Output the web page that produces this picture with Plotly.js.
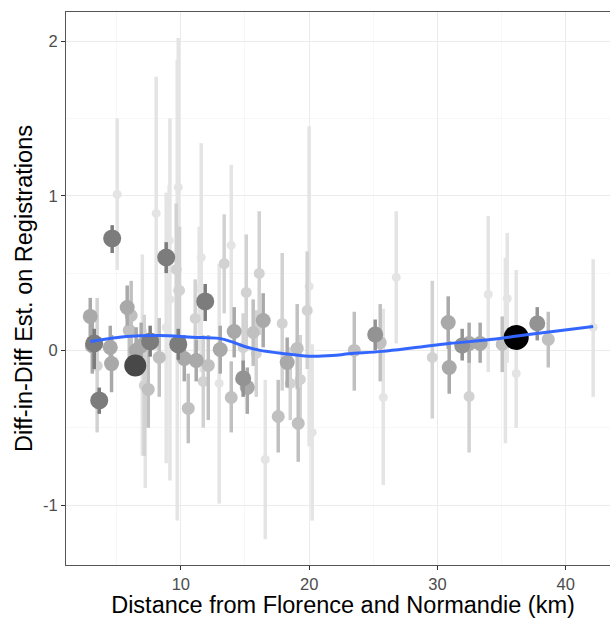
<!DOCTYPE html>
<html>
<head>
<meta charset="utf-8">
<script src="https://cdn.plot.ly/plotly-3.0.1.min.js"></script>
<style>html,body{margin:0;padding:0;overflow:hidden;background:#fff;}</style>
</head>
<body>
<div id="chart"></div>
<script>
// distance (km), estimate, CI low, CI high, precision class (1 = least precise ... 8 = most precise)
const dist = [2.94,3.25,3.48,3.10,3.64,4.65,5.04,4.50,4.60,5.82,6.13,5.98,6.45,6.52,6.91,7.15,7.46,7.23,7.61,8.32,8.08,8.86,9.09,9.15,9.64,9.72,9.90,9.80,9.80,10.27,10.58,11.20,11.12,11.43,11.59,11.90,12.14,11.75,12.99,13.07,13.38,13.93,13.93,14.16,14.86,15.18,15.10,15.64,14.86,15.88,16.11,16.42,16.58,17.90,18.29,18.53,17.59,19.07,19.31,19.15,19.85,20.00,20.24,23.52,25.15,25.54,25.78,26.79,29.60,30.84,30.92,31.93,32.47,32.47,33.33,33.96,35.05,35.44,35.30,36.14,36.14,37.78,38.64,42.14,7.00,8.86];
const est  = [0.22,0.045,-0.10,0.03,-0.323,0.724,1.008,0.02,-0.085,0.278,0.226,0.13,-0.097,0.0,0.03,-0.226,-0.252,-0.375,0.058,-0.045,0.886,0.601,0.711,0.33,0.524,0.388,0.388,0.039,1.054,-0.052,-0.375,-0.065,0.207,0.407,0.601,0.317,-0.097,-0.20,-0.213,0.006,0.562,0.679,-0.304,0.123,-0.181,-0.239,0.375,0.116,0.019,-0.019,0.498,0.194,-0.705,0.175,-0.078,-0.213,-0.427,0.013,-0.187,-0.472,0.259,0.414,-0.53,0.0,0.103,0.05,-0.304,0.472,-0.045,0.181,-0.11,0.032,0.045,-0.297,0.045,0.362,0.039,0.336,0.05,0.084,-0.149,0.175,0.071,0.15,-0.03,0.149];
const ciLow = [0.09,-0.12,-0.53,-0.15,-0.41,0.63,0.52,-0.12,-0.27,0.16,0.0,-0.05,-0.14,-0.15,-0.12,-0.68,-0.50,-0.89,-0.04,-0.30,0.0,0.50,0.35,-0.84,0.10,-1.10,0.0,-0.06,0.09,-0.20,-0.60,-0.20,-0.05,0.0,-0.14,0.19,-0.45,-0.50,-0.99,-0.15,0.24,0.16,-0.53,-0.045,-0.30,-0.41,0.0,-0.10,-0.20,-0.30,0.10,0.02,-1.22,-0.26,-0.24,-0.45,-0.66,-0.25,-0.50,-0.72,-0.12,-0.62,-1.10,-0.26,0.0,-0.20,-0.87,0.045,-0.44,0.01,-0.28,-0.065,-0.08,-0.66,-0.08,-0.14,-0.14,-0.08,-0.60,0.05,-0.50,0.065,-0.11,-0.30,-0.68,-0.73];
const ciHigh = [0.34,0.14,0.34,0.20,-0.24,0.81,1.50,0.16,0.10,0.42,0.45,0.30,-0.05,0.15,0.18,0.23,0.0,0.14,0.16,0.21,1.77,0.70,1.07,1.50,0.95,1.88,0.80,0.14,2.02,0.10,-0.15,0.07,0.46,0.80,1.34,0.43,0.10,0.10,0.56,0.16,0.88,1.20,-0.07,0.28,-0.065,-0.11,0.75,0.33,0.24,0.26,0.90,0.37,-0.19,0.63,0.084,0.02,-0.19,0.30,0.10,-0.24,0.64,1.45,0.04,0.25,0.20,0.30,0.27,0.90,0.45,0.35,0.06,0.14,0.18,0.07,0.18,0.87,0.22,0.76,0.60,0.12,0.52,0.28,0.25,0.59,0.62,1.02];
const precision = [4,6,2,4,6,6,1,4,4,4,3,3,7,4,4,2,3,1,6,3,1,6,1,1,2,1,2,6,1,4,3,4,2,1,1,6,3,2,1,4,2,1,3,4,5,4,2,3,2,2,2,4,1,2,4,2,3,3,2,3,2,1,1,3,5,3,1,1,2,4,4,5,4,2,4,1,3,1,1,8,1,5,3,1,1,1];

// smoothed fit (loess)
const fitX = [2.94,5.75,8.32,10.89,12.99,14.0,15.1,16.1,17.9,20.0,21.8,23.1,25.7,28.3,30.9,33.8,36.4,39.0,42.14];
const fitY = [0.058,0.09,0.097,0.086,0.078,0.055,0.022,0.002,-0.019,-0.037,-0.033,-0.022,-0.006,0.019,0.045,0.067,0.095,0.123,0.155];

const xTicks = [10,20,30,40];
const yTicks = [-1,0,1,2];

// styles per precision class
const classColor = {1:'#e4e4e4',2:'#d2d2d2',3:'#c0c0c0',4:'#a9a9a9',5:'#939393',6:'#7c7c7c',7:'#484848',8:'#000000'};
const classSize  = {1:9,2:11,3:13,4:15,5:16,6:18,7:22,8:25};

const traces = [];
for (let c = 1; c <= 8; c++) {
  const xs=[], ys=[], ep=[], em=[];
  for (let i = 0; i < dist.length; i++) {
    if (precision[i] !== c) continue;
    xs.push(dist[i]); ys.push(est[i]);
    ep.push(ciHigh[i]-est[i]); em.push(est[i]-ciLow[i]);
  }
  traces.push({
    type:'scatter', mode:'markers', x:xs, y:ys, hoverinfo:'skip', showlegend:false,
    marker:{color:classColor[c], size:classSize[c], line:{width:0}},
    error_y:{type:'data', symmetric:false, array:ep, arrayminus:em, color:classColor[c], thickness:3.5, width:0}
  });
}
traces.push({type:'scatter', mode:'lines', x:fitX, y:fitY, line:{color:'#3366FF', width:3, shape:'spline'}, hoverinfo:'skip', showlegend:false});

const layout = {
  width:620, height:618,
  margin:{l:66, r:0, t:12, b:53},
  paper_bgcolor:'#fff', plot_bgcolor:'#fff',
  font:{family:'Liberation Sans, Arial, sans-serif', color:'#000'},
  xaxis:{range:[1.05,44.23], tickvals:xTicks, ticktext:xTicks.map(String),
    showgrid:true, gridcolor:'#ebebeb', gridwidth:1.1,
    minor:{dtick:5, tick0:0, showgrid:true, gridcolor:'#f2f2f2', gridwidth:0.6},
    zeroline:false, showline:true, mirror:true, linecolor:'#555', linewidth:1,
    ticks:'outside', ticklen:4, tickcolor:'#333', tickwidth:1,
    tickfont:{size:16.5, color:'#4d4d4d'},
    title:{text:'Distance from Florence and Normandie (km)', font:{size:23.5, color:'#000'}, standoff:3}},
  yaxis:{range:[-1.387,2.188], tickvals:yTicks, ticktext:yTicks.map(String),
    showgrid:true, gridcolor:'#ebebeb', gridwidth:1.1,
    minor:{dtick:0.5, tick0:0, showgrid:true, gridcolor:'#f2f2f2', gridwidth:0.6},
    zeroline:false, showline:true, mirror:true, linecolor:'#555', linewidth:1,
    ticks:'outside', ticklen:4, tickcolor:'#333', tickwidth:1,
    tickfont:{size:16.5, color:'#4d4d4d'},
    title:{text:'Diff-in-Diff Est. on Registrations', font:{size:23.5, color:'#000'}, standoff:3}}
};
Plotly.newPlot('chart', traces, layout, {displayModeBar:false, staticPlot:true});
</script>
</body>
</html>
